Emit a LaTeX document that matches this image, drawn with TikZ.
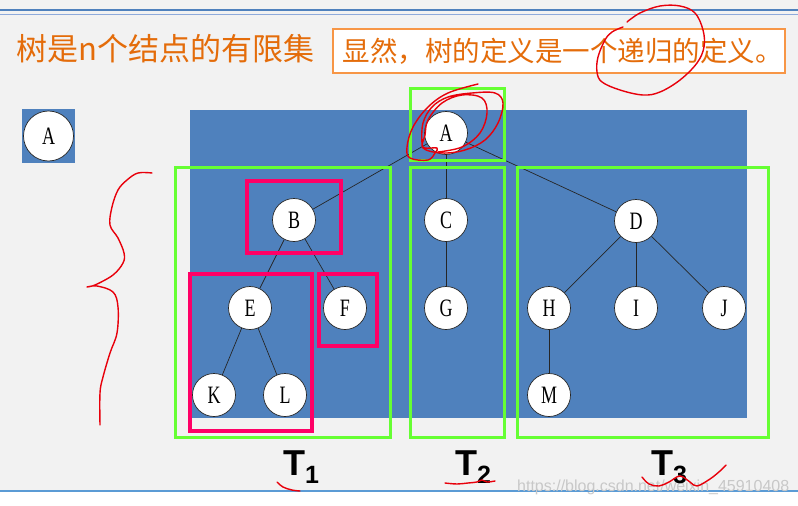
\documentclass[tikz,border=0pt]{standalone}
\usepackage{fontspec}
\setmainfont{Liberation Serif}
\newfontfamily\cjkf{Noto Sans CJK SC}
\newfontfamily\arialf{Liberation Sans}
\newfontfamily\nodefont[FakeStretch=0.72]{Liberation Serif}
\definecolor{bgc}{HTML}{F2F2F2}
\definecolor{bluec}{HTML}{4F81BD}
\definecolor{topblue}{HTML}{4F81BD}
\definecolor{topblue2}{HTML}{8EAADB}
\definecolor{botblue}{HTML}{5B9BD5}
\definecolor{orangetxt}{HTML}{E46C0A}
\definecolor{orangebox}{HTML}{F79646}
\definecolor{grnc}{HTML}{66FF33}
\definecolor{pnkc}{HTML}{FF0066}
\definecolor{penred}{HTML}{E8000B}
\definecolor{wmark}{HTML}{C8C8C8}
\tikzset{
  nd/.style={circle, draw=black!85, line width=0.7pt, fill=white, minimum size=43pt, inner sep=0pt,
             font=\nodefont\fontsize{25}{25}\selectfont},
  edge/.style={draw=black!85, line width=0.7pt},
  grnbox/.style={draw=grnc, line width=3pt},
  pnkbox/.style={draw=pnkc, line width=4.5pt},
  hand/.style={draw=penred, line width=1.4pt, line cap=round, line join=round},
  tlabel/.style={anchor=base west, inner sep=0pt, font=\arialf\bfseries}
}
\begin{document}
\begin{tikzpicture}[x=1pt,y=-1pt]
\useasboundingbox (0,0) rectangle (798,506);
% background
\fill[white] (0,0) rectangle (798,506);
\fill[bgc] (0,0) rectangle (798,491);
\draw[topblue, line width=1.6pt] (0,10) -- (798,10);
\draw[topblue2, line width=0.8pt] (0,14.5) -- (798,14.5);
\draw[botblue, line width=2pt] (0,491) -- (798,491);

% title
\node[anchor=west, inner sep=0pt, text=orangetxt] (title) at (16,49)
  {\cjkf\fontsize{31}{31}\selectfont 树是n个结点的有限集};
% definition box
\draw[orangebox, line width=2pt, fill=white] (333,29) rectangle (785,73);
\node[inner sep=0pt, text=orangetxt] (def) at (562.5,51)
  {\cjkf\fontsize{27.5}{27.5}\selectfont 显然，树的定义是一个递归的定义。};

% small A
\fill[bluec] (22,109) rectangle (75,163);
\node[nd, minimum size=50pt] (A0) at (48.5,136) {A};

% big blue panel
\fill[bluec] (190,110) rectangle (747,418);

% tree nodes
\node[nd] (A) at (446,133) {A};
\node[nd] (B) at (294,220) {B};
\node[nd] (C) at (446,220) {C};
\node[nd] (D) at (636,221) {D};
\node[nd] (E) at (250,308) {E};
\node[nd] (F) at (345,308) {F};
\node[nd] (G) at (446,308) {G};
\node[nd] (H) at (549,308) {H};
\node[nd] (I) at (636,308) {I};
\node[nd] (J) at (724,308) {J};
\node[nd] (K) at (214,395) {K};
\node[nd] (L) at (285,395) {L};
\node[nd] (M) at (549,395) {M};

\draw[edge] (A) -- (B);
\draw[edge] (A) -- (C);
\draw[edge] (A) -- (D);
\draw[edge] (B) -- (E);
\draw[edge] (B) -- (F);
\draw[edge] (E) -- (K);
\draw[edge] (E) -- (L);
\draw[edge] (C) -- (G);
\draw[edge] (D) -- (H);
\draw[edge] (D) -- (I);
\draw[edge] (D) -- (J);
\draw[edge] (H) -- (M);

% green boxes
\draw[grnbox] (410,88) rectangle (504,160);
\draw[grnbox] (175,167) rectangle (390,437);
\draw[grnbox] (410,167) rectangle (504,437);
\draw[grnbox] (517,167) rectangle (768,437);

% pink boxes
\draw[pnkbox] (247,181) rectangle (341,253);
\draw[pnkbox] (190,274) rectangle (312,431);
\draw[pnkbox] (319,274) rectangle (377,346);

% watermark
\node[anchor=west, inner sep=0pt, text=wmark] (wm) at (517,487)
  {\resizebox{272pt}{!}{\arialf\fontsize{17}{17}\selectfont https://blog.csdn.net/weixin\_45910408}};

% T labels
\node[tlabel] (T1) at (283,475) {\fontsize{36}{36}\selectfont T\raisebox{-8pt}{\fontsize{25}{25}\selectfont 1}};
\node[tlabel] (T2) at (455,475) {\fontsize{36}{36}\selectfont T\raisebox{-8pt}{\fontsize{25}{25}\selectfont 2}};
\node[tlabel] (T3) at (651,475) {\fontsize{36}{36}\selectfont T\raisebox{-8pt}{\fontsize{25}{25}\selectfont 3}};

% hand-drawn red strokes
\draw[hand] plot[smooth, tension=0.6] coordinates {
  (152,173) (138,173) (127,180) (118,190) (112,207) (110,225) (118,238) (124,253)
  (123,263) (113,275) (95,285) (87,287) (97,286) (113,292) (118,307) (117,333)
  (110,353) (103,377) (100,393) (100,425)};
\draw[hand] plot[smooth, tension=0.6] coordinates {
  (478,84) (448,93) (428,107) (413,127) (407,147) (410,158) (428,160) (435,153)
  (437,148) (425,148) (422,143) (423,123) (432,107) (448,97) (472,93) (495,93)
  (503,103) (498,123) (485,140) (465,150) (442,153) (423,148)
  (425,135) (428,120) (442,103) (462,95) (482,98) (487,113) (480,133) (462,147) (438,152)};
\draw[hand] plot[smooth, tension=0.6] coordinates {
  (627,22) (640,13) (660,6) (680,6) (695,13) (703,30) (704,47) (697,63) (680,80)
  (660,92) (643,95) (620,90) (602,82) (597,72) (598,57) (605,40) (612,32) (623,27)};
\draw[hand] plot[smooth, tension=0.6] coordinates {
  (277,482) (283,487) (292,490) (300,491)};
\draw[hand] plot[smooth, tension=0.6] coordinates {
  (445,483) (457,484) (468,483) (477,482) (482,480) (487,482) (495,481)};
\draw[hand] plot[smooth, tension=0.6] coordinates {
  (642,477) (649,484) (659,486) (669,482) (680,476) (690,482) (697,486) (710,479)
  (720,471) (726,465)};
\end{tikzpicture}
\end{document}
